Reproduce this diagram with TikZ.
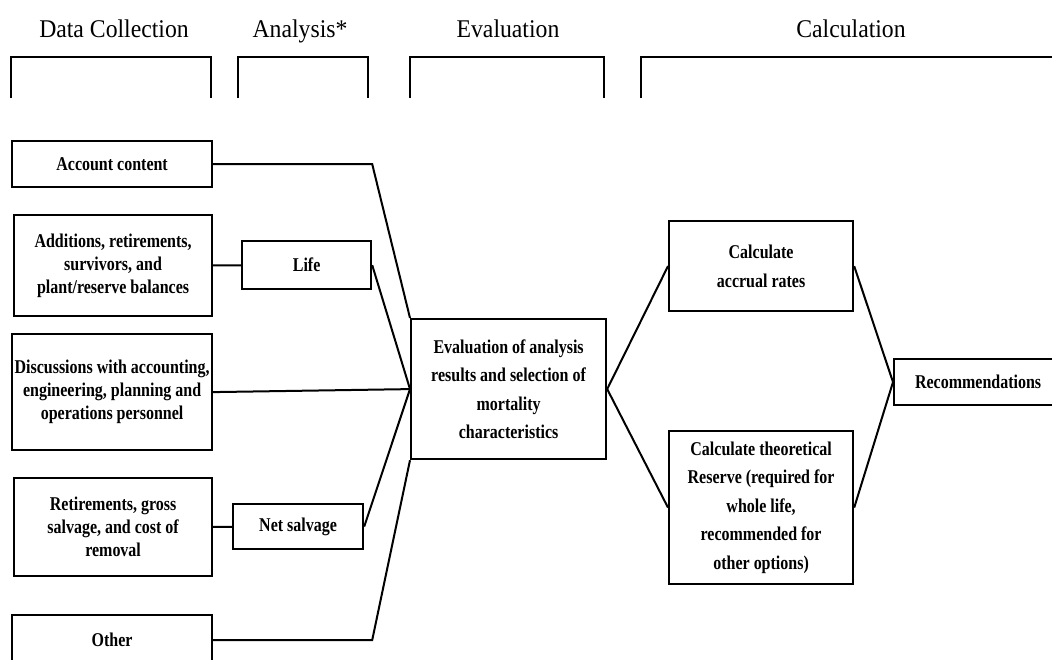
\documentclass[tikz,border=0pt]{standalone}
\usepackage{fontspec}
\setmainfont{Liberation Serif}
\newfontfamily\boxfont[FakeStretch=0.82]{Liberation Serif}
\newfontfamily\headfont[FakeStretch=0.93]{Liberation Serif}
\usepackage{tikz}
\usetikzlibrary{positioning}

\begin{document}
\begin{tikzpicture}[x=1pt, y=-1pt, thick,
    box/.style={draw, line width=2.2pt, align=center, anchor=north west, inner xsep=1pt,
        font=\boxfont\fontsize{19.5}{23}\selectfont\bfseries},
    spaced/.style={font=\boxfont\fontsize{19.5}{28.5}\selectfont\bfseries},
    head/.style={anchor=base, font=\headfont\fontsize{25.5}{27}\selectfont},
    link/.style={line width=2pt},
    brace/.style={line width=2.2pt}]
    \useasboundingbox (0,0) rectangle (1052,659);

    % Column headings
    \node (hData) [head] at (114,37) {Data Collection};
    \node (hAnal) [head] at (300,37) {Analysis*};
    \node (hEval) [head] at (508,37) {Evaluation};
    \node (hCalc) [head] at (851,37) {Calculation};

    % Brackets under the headings
    \draw[brace] (11,98) |- (211,57) -- (211,98);
    \draw[brace] (238,98) |- (368,57) -- (368,98);
    \draw[brace] (410,98) |- (604,57) -- (604,98);
    \draw[brace] (641,98) |- (1060,57);

    % Data collection boxes
    \node (acct) [box, minimum width=200, minimum height=46] at (11,140) {Account content};
    \node (addn) [box, minimum width=198, minimum height=101] at (13,214) {Additions, retirements,\\ survivors, and\\ plant/reserve balances};
    \node (disc) [box, minimum width=200, minimum height=116] at (11,333) {Discussions with accounting,\\ engineering, planning and\\ operations personnel};
    \node (retr) [box, minimum width=198, minimum height=98] at (13,477) {Retirements, gross\\ salvage, and cost of\\ removal};
    \node (othr) [box, minimum width=200, minimum height=50] at (11,614) {Other};

    % Analysis boxes
    \node (life) [box, minimum width=129, minimum height=48] at (241,240) {Life};
    \node (nets) [box, minimum width=130, minimum height=45] at (232,503) {Net salvage};

    % Evaluation and calculation
    \node (eval) [box, spaced, minimum width=195, minimum height=140] at (410,318) {Evaluation of analysis\\ results and selection of\\ mortality\\ characteristics};
    \node (accr) [box, spaced, minimum width=184, minimum height=90] at (668,220) {Calculate\\ accrual rates};
    \node (theo) [box, spaced, minimum width=184, minimum height=153] at (668,430) {Calculate theoretical\\ Reserve (required for\\ whole life,\\ recommended for\\ other options)};
    \node (reco) [box, minimum width=168, minimum height=46] at (893,358) {Recommendations};

    % Connectors
    \draw[link] (acct.east) -- (acct.east -| life.east) -- (eval.north west);
    \draw[link] (addn) -- (life);
    \draw[link] (life.east) -- (eval.west);
    \draw[link] (disc.east) -- (eval.west);
    \draw[link] (retr) -- (nets);
    \draw[link] (nets.east) -- (eval.west);
    \draw[link] (othr.east) -- (othr.east -| life.east) -- (eval.south west);
    \draw[link] (eval.east) -- (accr.west);
    \draw[link] (eval.east) -- (theo.west);
    \draw[link] (accr.east) -- (reco.west);
    \draw[link] (theo.east) -- (reco.west);
\end{tikzpicture}
\end{document}
